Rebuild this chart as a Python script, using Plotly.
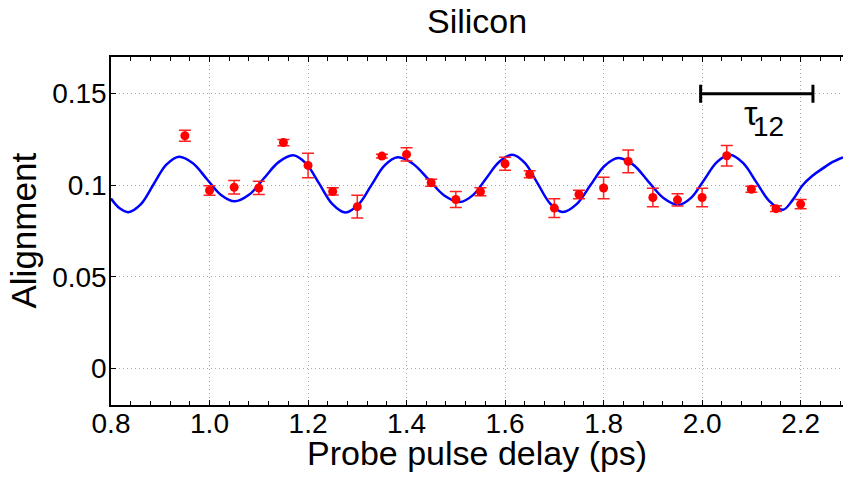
import plotly.graph_objects as go

# Measured data points
delay = [0.95, 1.00, 1.05, 1.10, 1.15, 1.20, 1.25, 1.30, 1.35, 1.40, 1.45, 1.50, 1.55,
         1.60, 1.65, 1.70, 1.75, 1.80, 1.85, 1.90, 1.95, 2.00, 2.05, 2.10, 2.15, 2.20]
alignment = [0.1270, 0.0971, 0.0989, 0.0985, 0.1233, 0.1108, 0.0966, 0.0883, 0.1159, 0.1168,
             0.1014, 0.0922, 0.0964, 0.1117, 0.1060, 0.0875, 0.0949, 0.0985, 0.1130, 0.0933,
             0.0920, 0.0933, 0.1161, 0.0978, 0.0872, 0.0897]
err = [0.0030, 0.0026, 0.0037, 0.0036, 0.0017, 0.0067, 0.0020, 0.0062, 0.0010, 0.0036,
       0.0019, 0.0044, 0.0022, 0.0036, 0.0019, 0.0051, 0.0023, 0.0059, 0.0062, 0.0050,
       0.0034, 0.0051, 0.0056, 0.0016, 0.0016, 0.0025]

# Fit curve
fit_x = [0.800, 0.8175, 0.835, 0.8608, 0.8865, 0.9123, 0.938, 0.9663, 0.9945, 1.0228,
         1.051, 1.0808, 1.1105, 1.1403, 1.170, 1.1965, 1.223, 1.2495, 1.276, 1.3025,
         1.329, 1.3555, 1.382, 1.4135, 1.445, 1.4765, 1.508, 1.5348, 1.5615, 1.5883,
         1.615, 1.6405, 1.666, 1.6915, 1.717, 1.7453, 1.7735, 1.8018, 1.830, 1.8605,
         1.891, 1.9215, 1.952, 1.978, 2.004, 2.030, 2.056, 2.083, 2.110, 2.137,
         2.164, 2.184, 2.204, 2.224, 2.245, 2.265, 2.286]
fit_y = [0.0927, 0.0874, 0.0853, 0.0897, 0.1005, 0.1112, 0.1156, 0.1120, 0.1034, 0.0948,
         0.0912, 0.0949, 0.1038, 0.1126, 0.1163, 0.1117, 0.1007, 0.0897, 0.0851, 0.0895,
         0.1002, 0.1108, 0.1152, 0.1116, 0.1030, 0.0944, 0.0908, 0.0946, 0.1037, 0.1128,
         0.1166, 0.1120, 0.1010, 0.0900, 0.0854, 0.0897, 0.1001, 0.1105, 0.1148, 0.1111,
         0.1020, 0.0930, 0.0892, 0.0932, 0.1029, 0.1126, 0.1166, 0.1122, 0.1017, 0.0912,
         0.0866, 0.0920, 0.1000, 0.1052, 0.1092, 0.1127, 0.1152]

# tau_12 bar
tau_start = 1.997
tau_end = 2.225
tau_y = 0.15

x_ticks = [0.8, 1.0, 1.2, 1.4, 1.6, 1.8, 2.0, 2.2]
x_tick_labels = ["0.8", "1.0", "1.2", "1.4", "1.6", "1.8", "2.0", "2.2"]
y_ticks = [0, 0.05, 0.1, 0.15]
y_tick_labels = ["0", "0.05", "0.1", "0.15"]

FONT = "Liberation Sans, Arial, Helvetica, sans-serif"

fig = go.Figure()

fig.add_trace(go.Scatter(
    x=fit_x, y=fit_y, mode="lines",
    line=dict(color="#0000ff", width=2.5, shape="spline", smoothing=1.0),
    hoverinfo="skip"))

fig.add_trace(go.Scatter(
    x=delay, y=alignment, mode="markers",
    marker=dict(color="#ff0000", size=9),
    error_y=dict(type="data", array=err, visible=True, color="#ff2020",
                 thickness=1.5, width=6)))

tau_mid = (tau_start + tau_end) / 2
fig.add_trace(go.Scatter(
    x=[tau_mid], y=[tau_y], mode="markers",
    marker=dict(size=1, color="rgba(0,0,0,0)"),
    error_x=dict(type="data", array=[(tau_end - tau_start) / 2], visible=True,
                 color="black", thickness=3, width=9),
    hoverinfo="skip"))

fig.update_layout(
    width=843, height=478,
    margin=dict(l=111, r=0, t=57, b=73),
    paper_bgcolor="white", plot_bgcolor="white",
    showlegend=False,
    font=dict(family=FONT, color="black"),
    xaxis=dict(
        range=[0.8, 2.286],
        tickmode="array", tickvals=x_ticks, ticktext=x_tick_labels,
        ticks="inside", ticklen=5, tickwidth=1, tickcolor="black",
        showline=True, linecolor="black", linewidth=1.5, mirror="ticks",
        showgrid=True, gridcolor="#a8a8a8", griddash="1px,3px", gridwidth=1,
        zeroline=False,
        tickfont=dict(size=28, family=FONT),
        ticklabelstandoff=-7,
        minor=dict(dtick=0.04, tick0=0.8, ticks="inside", ticklen=4,
                   tickcolor="black", showgrid=False),
    ),
    yaxis=dict(
        range=[-0.02, 0.17],
        tickmode="array", tickvals=y_ticks, ticktext=y_tick_labels,
        ticks="inside", ticklen=5, tickwidth=1, tickcolor="black",
        showline=True, linecolor="black", linewidth=1.5, mirror=False,
        showgrid=True, gridcolor="#a8a8a8", griddash="1px,3px", gridwidth=1,
        zeroline=False,
        tickfont=dict(size=28, family=FONT),
        ticklabelstandoff=-3,
    ),
    annotations=[
        dict(text="Silicon", xref="paper", yref="paper", x=0.5, y=1,
             yshift=57, xanchor="center", yanchor="top", showarrow=False,
             font=dict(size=34, family=FONT)),
        dict(text="Probe pulse delay (ps)", xref="paper", yref="paper", x=0.5, y=0,
             yshift=-27, xanchor="center", yanchor="top", showarrow=False,
             font=dict(size=34, family=FONT)),
        dict(text="Alignment", xref="paper", yref="paper", x=0, y=0.5,
             xshift=-110, xanchor="left", yanchor="middle", textangle=-90,
             showarrow=False, font=dict(size=35, family=FONT)),
        dict(text="τ", xref="x", yref="y", x=2.100, y=0.1392,
             xanchor="center", yanchor="middle", showarrow=False,
             font=dict(size=34, family=FONT)),
        dict(text="12", xref="x", yref="y", x=2.134, y=0.1318,
             xanchor="center", yanchor="middle", showarrow=False,
             font=dict(size=28, family=FONT)),
    ],
)

fig.write_html("out.html")
